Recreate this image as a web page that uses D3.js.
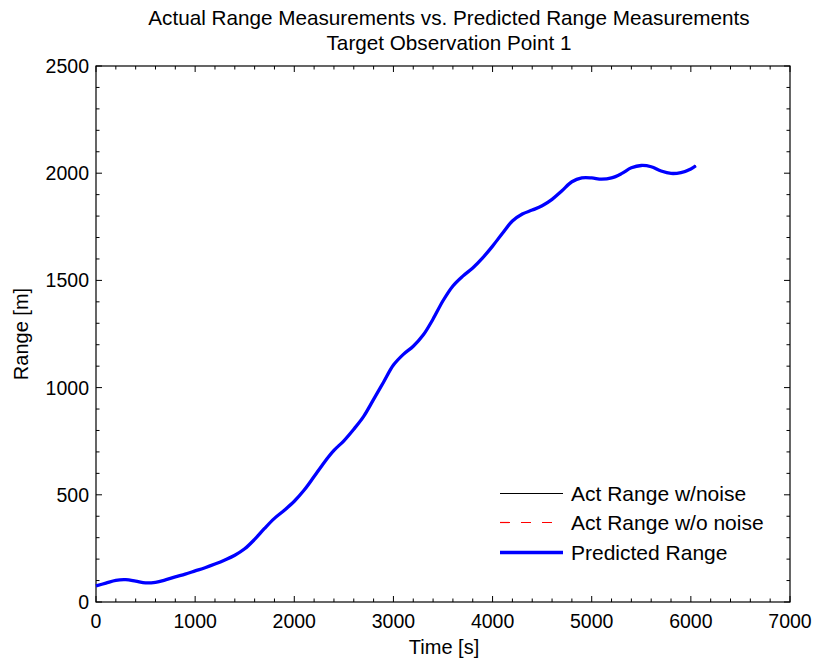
<!DOCTYPE html>
<html><head><meta charset="utf-8">
<script src="https://cdn.jsdelivr.net/npm/d3@7"></script>
<style>body{margin:0;background:#fff;}svg{display:block;font-family:"Liberation Sans",Arial,sans-serif;}</style>
</head><body>
<svg id="c" width="817" height="662"></svg>
<script>
const timeS = [0,100,200,300,400,500,600,700,800,900,1000,1100,1200,1300,1400,1500,1600,1700,1800,1900,2000,2100,2200,2300,2400,2500,2600,2700,2800,2900,3000,3100,3200,3300,3400,3500,3600,3700,3800,3900,4000,4100,4200,4300,4400,4500,4600,4700,4800,4900,5000,5100,5200,5300,5400,5500,5600,5700,5800,5900,6000,6050];
const rangeM = [75,88,101,104,97,89,92,103,117,130,145,160,177,196,218,248,292,343,390,428,470,522,585,650,707,752,806,866,945,1025,1105,1155,1193,1245,1320,1405,1474,1520,1558,1605,1660,1720,1777,1810,1828,1848,1878,1918,1960,1978,1978,1972,1978,1998,2025,2036,2030,2010,1999,2003,2020,2035];
const actNoise = rangeM.slice();
const actNoNoise = rangeM.slice();
const xTicks = [0,1000,2000,3000,4000,5000,6000,7000];
const yTicks = [0,500,1000,1500,2000,2500];
const legendLabels = ["Act Range w/noise","Act Range w/o noise","Predicted Range"];
const titleLines = ["Actual Range Measurements vs. Predicted Range Measurements","Target Observation Point 1"];

const svg = d3.select("#c");
const L=96,R=790,T=66,B=602;
const x = d3.scaleLinear().domain([0,7000]).range([L,R]);
const y = d3.scaleLinear().domain([0,2500]).range([B,T]);
const pts = (vals)=>timeS.map((t,i)=>[t,vals[i]]);
const line = d3.line().x(d=>x(d[0])).y(d=>y(d[1])).curve(d3.curveCatmullRom.alpha(0.5));

const g = svg.append("g");
g.append("rect").attr("x",L).attr("y",T).attr("width",R-L).attr("height",B-T).attr("fill","none").attr("stroke","#000").attr("stroke-width",1.2);
const xMinor = d3.range(0,7001,200), yMinor = d3.range(0,2501,100);
xMinor.forEach(v=>{const maj=v%1000===0;const len=maj?6:3.5;
  g.append("line").attr("x1",x(v)).attr("x2",x(v)).attr("y1",B).attr("y2",B-len).attr("stroke","#000");
  g.append("line").attr("x1",x(v)).attr("x2",x(v)).attr("y1",T).attr("y2",T+len).attr("stroke","#000");});
yMinor.forEach(v=>{const maj=v%500===0;const len=maj?6:3.5;
  g.append("line").attr("y1",y(v)).attr("y2",y(v)).attr("x1",L).attr("x2",L+len).attr("stroke","#000");
  g.append("line").attr("y1",y(v)).attr("y2",y(v)).attr("x1",R).attr("x2",R-len).attr("stroke","#000");});
xTicks.forEach(v=>g.append("text").attr("x",x(v)).attr("y",628).attr("text-anchor","middle").attr("font-size",19.5).text(v));
yTicks.forEach(v=>g.append("text").attr("x",89).attr("y",y(v)+7).attr("text-anchor","end").attr("font-size",19.5).text(v));
g.append("text").attr("x",444).attr("y",654).attr("text-anchor","middle").attr("font-size",20).text("Time [s]");
g.append("text").attr("transform","translate(28,334) rotate(-90)").attr("text-anchor","middle").attr("font-size",20).text("Range [m]");
titleLines.forEach((s,i)=>g.append("text").attr("x",449).attr("y",25+i*25).attr("text-anchor","middle").attr("font-size",20.7).text(s));
g.append("path").attr("d",line(pts(actNoise))).attr("fill","none").attr("stroke","#000").attr("stroke-width",1);
g.append("path").attr("d",line(pts(actNoNoise))).attr("fill","none").attr("stroke","#f00").attr("stroke-width",1).attr("stroke-dasharray","8,6");
g.append("path").attr("d",line(pts(rangeM))).attr("fill","none").attr("stroke","#00f").attr("stroke-width",3.3);
const styles=[{c:"#000",w:1,d:null},{c:"#ff0000",w:1.2,d:"10,11"},{c:"#00f",w:3.3,d:null}];
legendLabels.forEach((s,i)=>{const yy=Math.floor(493+i*29.5)+0.5;
  const ln=g.append("line").attr("x1",500).attr("x2",563).attr("y1",yy).attr("y2",yy).attr("stroke",styles[i].c).attr("stroke-width",styles[i].w);
  if(styles[i].d) ln.attr("stroke-dasharray",styles[i].d);
  g.append("text").attr("x",571).attr("y",yy+7).attr("font-size",21).text(s);});
</script>
</body></html>
